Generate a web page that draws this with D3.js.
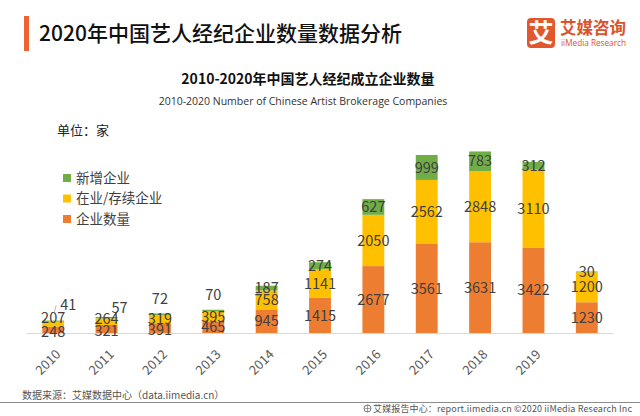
<!DOCTYPE html>
<html>
<head>
<meta charset="utf-8">
<script src="https://cdn.jsdelivr.net/npm/d3@7/dist/d3.min.js"></script>
<style>
  html, body { margin: 0; padding: 0; background: #fff; }
  svg { display: block; font-family: "Noto Sans CJK SC", "Noto Sans", sans-serif; }
</style>
</head>
<body>
<svg id="chart" width="640" height="416"></svg>
<script>
// ---- data ----
const categories = ["2010","2011","2012","2013","2014","2015","2016","2017","2018","2019","2020"];
const tickLabels = ["2010","2011","2012","2013","2014","2015","2016","2017","2018","2019",""];
const seriesNames = ["企业数量", "在业/存续企业", "新增企业"];
const companyCount = [248, 321, 391, 465, 945, 1415, 2677, 3561, 3631, 3422, 1230];
const activeCount  = [207, 264, 319, 395, 758, 1141, 2050, 2562, 2848, 3110, 1200];
const newCount     = [41, 57, 72, 70, 187, 274, 627, 999, 783, 312, 30];

// ---- layout / style ----
const colors = { "企业数量": "#ED7D31", "在业/存续企业": "#FFC000", "新增企业": "#70AD47" };
const labelColor = "#404040";
// callout label placement for tiny green segments (dx, dy from bar top centre)
const callout = { "2010": [15, -16, true], "2011": [13, -9, false], "2012": [0, -15, false], "2013": [0, -15, false] };
// small vertical nudges for crowded labels in tiny bars
const nudge = { "在业/存续企业": { "2010": -6, "2011": -3 }, "企业数量": { "2010": 1.5, "2011": 1.5, "2012": 2 } };

const svg = d3.select("#chart");

// header
svg.append("rect").attr("x", 24).attr("y", 16).attr("width", 5).attr("height", 35).attr("fill", "#EF6236");
svg.append("text").attr("x", 39).attr("y", 41).attr("font-size", 21).attr("fill", "#111")
  .attr("font-weight", 500).text("2020年中国艺人经纪企业数量数据分析");

// logo
const logo = svg.append("g");
logo.append("rect").attr("x", 527).attr("y", 18).attr("width", 28).attr("height", 30).attr("rx", 4).attr("fill", "#E1572E");
logo.append("text").attr("x", 541).attr("y", 42).attr("text-anchor", "middle").attr("font-size", 25)
  .attr("font-weight", 700).attr("fill", "#fff").text("艾");
logo.append("text").attr("x", 560).attr("y", 34).attr("font-size", 16.5).attr("font-weight", 700)
  .attr("fill", "#D9542D").attr("textLength", 66).text("艾媒咨询");
logo.append("text").attr("x", 561).attr("y", 46).attr("font-size", 9.5).attr("font-family", "'Open Sans', sans-serif")
  .attr("fill", "#D9542D").attr("textLength", 65).attr("lengthAdjust", "spacingAndGlyphs").text("iiMedia Research");

// chart titles
svg.append("text").attr("x", 308).attr("y", 84).attr("text-anchor", "middle").attr("font-size", 14)
  .attr("font-weight", 700).attr("fill", "#111").text("2010-2020年中国艺人经纪成立企业数量");
svg.append("text").attr("x", 303).attr("y", 105).attr("text-anchor", "middle").attr("font-size", 10.5)
  .attr("font-family", "'Open Sans', sans-serif").attr("fill", "#333")
  .text("2010-2020 Number of Chinese Artist Brokerage Companies");
svg.append("text").attr("x", 57).attr("y", 135).attr("font-size", 13).attr("fill", "#222").text("单位：家");

// legend
const legendItems = ["新增企业", "在业/存续企业", "企业数量"];
const lg = svg.append("g");
legendItems.forEach((name, i) => {
  const y = 178 + i * 20.5;
  lg.append("rect").attr("x", 63).attr("y", y - 4).attr("width", 8).attr("height", 8).attr("fill", colors[name]);
  lg.append("text").attr("x", 76).attr("y", y).attr("dy", "0.36em").attr("font-size", 13.5)
    .attr("fill", labelColor).text(name);
});

// scales
const x = d3.scaleBand().domain(categories).range([26.5, 613.5]).paddingInner(0.59).paddingOuter(0.295);
const y = d3.scaleLinear().domain([0, 8000]).range([333, 133]);

const table = categories.map((c, i) => ({
  cat: c,
  "企业数量": companyCount[i],
  "在业/存续企业": activeCount[i],
  "新增企业": newCount[i]
}));
const stacked = d3.stack().keys(seriesNames)(table);

// bars
const gBars = svg.append("g");
stacked.forEach(layer => {
  gBars.selectAll(null).data(layer).enter().append("rect")
    .attr("x", d => x(d.data.cat))
    .attr("width", x.bandwidth())
    .attr("y", d => y(d[1]))
    .attr("height", d => y(d[0]) - y(d[1]))
    .attr("fill", colors[layer.key]);
});

// axis
const xAxis = d3.axisBottom(x).tickSize(0).tickFormat((d, i) => tickLabels[i]);
const gx = svg.append("g").attr("transform", "translate(0,333)").call(xAxis);
gx.select(".domain").attr("stroke", "#D9D9D9").attr("d", "M26.5,0.5H613.5");
gx.selectAll("text")
  .attr("font-size", 13).attr("fill", "#595959").attr("font-family", "'Noto Sans CJK SC', sans-serif")
  .attr("text-anchor", "end").attr("dy", "0.35em").attr("y", 0)
  .attr("transform", "translate(5,19) rotate(-45)");

// labels
const gLab = svg.append("g").attr("font-size", 14.5).attr("fill", labelColor);
stacked.forEach(layer => {
  layer.forEach(d => {
    const cx = x(d.data.cat) + x.bandwidth() / 2;
    const val = d.data[layer.key];
    if (layer.key === "新增企业" && callout[d.data.cat]) {
      const [dx, dy, line] = callout[d.data.cat];
      const ty = y(d[1]) + dy;
      gLab.append("text").attr("x", cx + dx).attr("y", ty).attr("dy", "0.36em")
        .attr("text-anchor", "middle").text(val);
      if (line) {
        svg.append("path").attr("d", `M${cx + 3},${ty + 1}L${cx + 1},${y(d[1]) - 8}`)
          .attr("stroke", "#A6A6A6").attr("stroke-width", 0.8).attr("fill", "none");
      }
    } else {
      const n = (nudge[layer.key] && nudge[layer.key][d.data.cat]) || 0;
      gLab.append("text").attr("x", cx).attr("y", (y(d[0]) + y(d[1])) / 2 + n).attr("dy", "0.36em")
        .attr("text-anchor", "middle").text(val);
    }
  });
});

// footer
svg.append("text").attr("x", 22).attr("y", 399).attr("font-size", 10).attr("fill", "#555")
  .text("数据来源：艾媒数据中心（data.iimedia.cn）");
svg.append("line").attr("x1", 0).attr("x2", 640).attr("y1", 402.5).attr("y2", 402.5)
  .attr("stroke", "#8C8C8C").attr("stroke-width", 1);
const fg = svg.append("g");
fg.append("circle").attr("cx", 367.5).attr("cy", 408.5).attr("r", 3.5).attr("fill", "none").attr("stroke", "#666").attr("stroke-width", 0.9);
fg.append("path").attr("d", "M364.5,408.5H370.5M367.5,405V412").attr("stroke", "#666").attr("stroke-width", 0.6);
fg.append("text").attr("x", 632).attr("y", 412).attr("text-anchor", "end").attr("font-size", 9).attr("fill", "#555")
  .attr("textLength", 259).text("艾媒报告中心：report.iimedia.cn   ©2020  iiMedia Research  Inc");
</script>
</body>
</html>
